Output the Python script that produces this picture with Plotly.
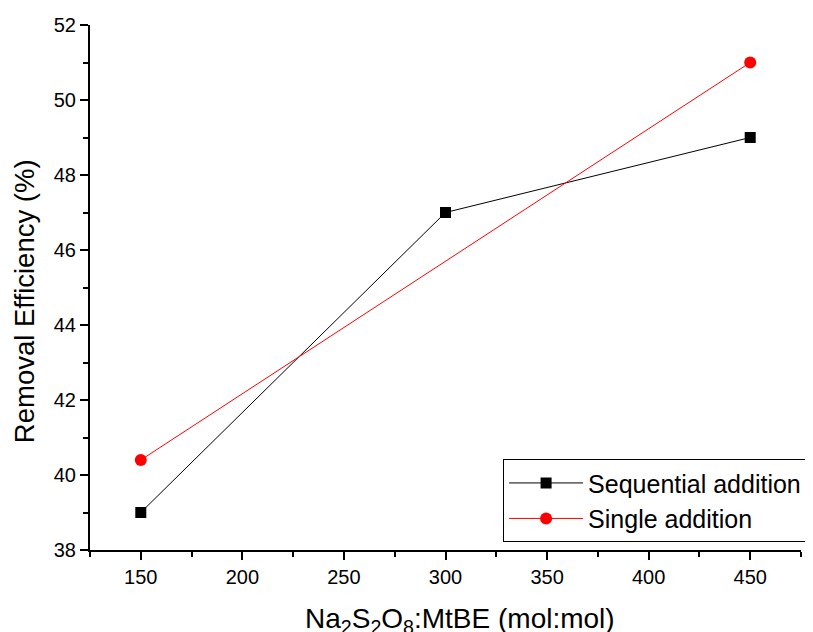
import plotly.graph_objects as go

ratio_seq = [150, 300, 450]
eff_seq = [39.0, 47.0, 49.0]
ratio_single = [150, 450]
eff_single = [40.4, 51.0]

series_names = ["Sequential addition", "Single addition"]
x_ticks = [150, 200, 250, 300, 350, 400, 450]
y_ticks = [38, 40, 42, 44, 46, 48, 50, 52]
x_title = "Na<sub>2</sub>S<sub>2</sub>O<sub>8</sub>:MtBE (mol:mol)"
y_title = "Removal Efficiency (%)"

font = "Liberation Sans, Arial, sans-serif"

fig = go.Figure()
fig.add_trace(go.Scatter(
    x=ratio_seq, y=eff_seq, name=series_names[0], mode="lines+markers",
    line=dict(color="black", width=1),
    marker=dict(symbol="square", size=11, color="black"),
))
fig.add_trace(go.Scatter(
    x=ratio_single, y=eff_single, name=series_names[1], mode="lines+markers",
    line=dict(color="red", width=1),
    marker=dict(symbol="circle", size=12, color="red"),
))

axis_common = dict(
    showline=True, linecolor="black", linewidth=2,
    ticks="outside", ticklen=8, tickwidth=2, tickcolor="black",
    showgrid=False, zeroline=False, mirror=False, automargin=False,
    tickfont=dict(family=font, size=20, color="black"),
)

fig.update_xaxes(
    range=[125, 475], tickvals=x_ticks,
    minor=dict(ticks="outside", ticklen=5, tickwidth=2, tickcolor="black", dtick=25, tick0=125),
    **axis_common,
)
fig.update_yaxes(
    range=[38, 52], tickvals=y_ticks,
    minor=dict(ticks="outside", ticklen=5, tickwidth=2, tickcolor="black", dtick=1, tick0=38),
    **axis_common,
)

fig.add_annotation(
    text=x_title, xref="paper", yref="paper", x=0.52, y=0, xanchor="center", yanchor="top",
    yshift=-51, showarrow=False, font=dict(family=font, size=28, color="black"),
)
fig.add_annotation(
    text=y_title, xref="paper", yref="paper", x=0, y=0.474, xanchor="center", yanchor="middle",
    xshift=-66, textangle=-90, showarrow=False, font=dict(family=font, size=27.5, color="black"),
)

fig.update_layout(
    width=820, height=624,
    margin=dict(l=82, r=27, t=17, b=82),
    paper_bgcolor="white", plot_bgcolor="white",
    legend=dict(
        x=0.581, y=0.173, xanchor="left", yanchor="top",
        bordercolor="black", borderwidth=1, bgcolor="white",
        font=dict(family=font, size=25, color="black"),
        tracegroupgap=0, itemwidth=74,
    ),
)

fig.write_html("out.html")
